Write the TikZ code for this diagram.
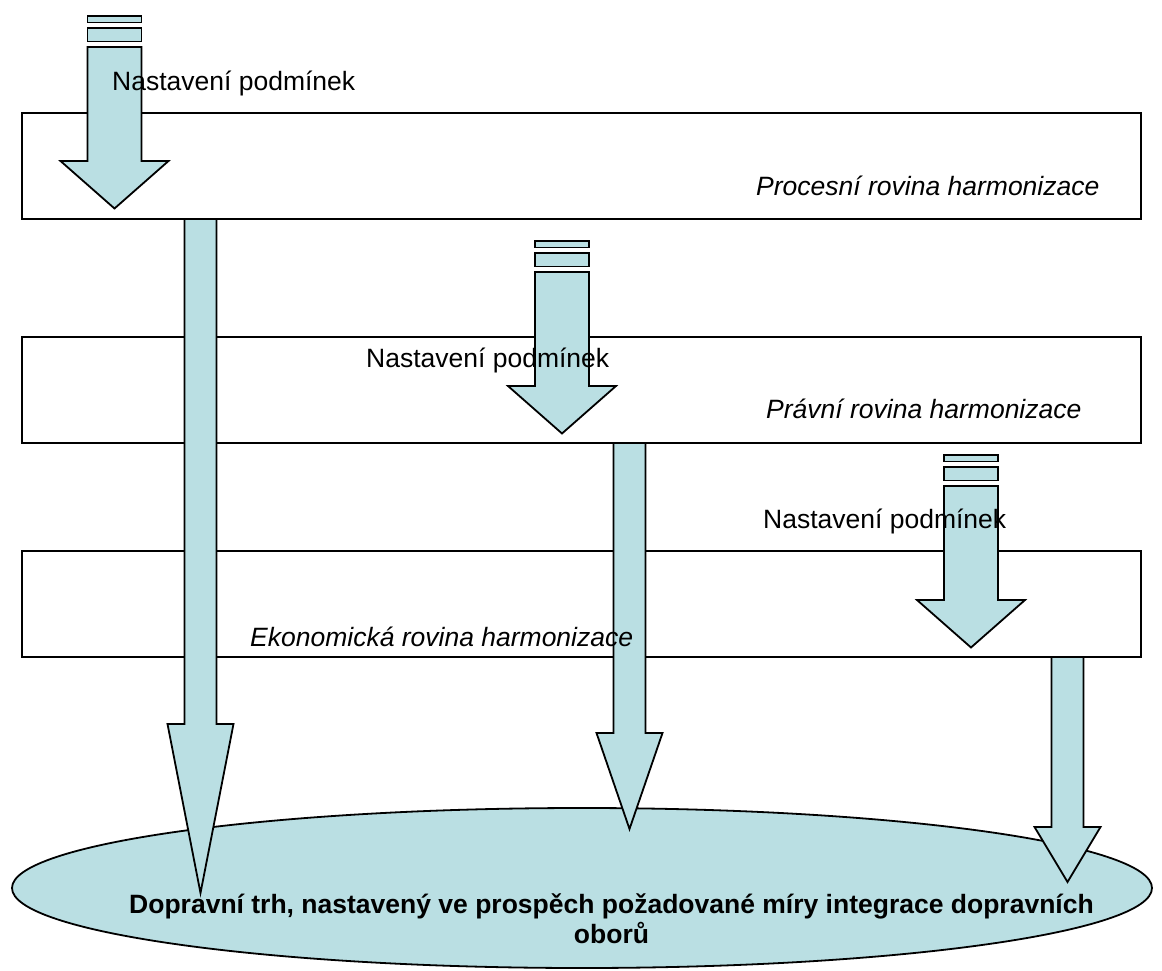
\documentclass[tikz,border=0pt]{standalone}
\usepackage{fontspec}
\setmainfont{Liberation Sans}
\usetikzlibrary{shapes.geometric}
\definecolor{arrowfill}{RGB}{186,223,227}

\begin{document}
\begin{tikzpicture}[
  x=1pt, y=-1pt,
  font=\fontsize{26.5}{30}\selectfont,
  plane/.style={draw, line width=2pt, fill=white, rectangle, inner sep=0pt,
                outer sep=0pt, minimum width=1119pt, minimum height=106pt},
  market/.style={draw, line width=1.8pt, fill=arrowfill, ellipse, inner sep=0pt,
                 outer sep=0pt, minimum width=1140pt, minimum height=160pt},
  barrow/.style={draw, line width=1.8pt, fill=arrowfill, line join=miter},
  lbl/.style={inner sep=0pt, anchor=base west},
  plbl/.style={lbl, font=\fontsize{26.5}{30}\selectfont\itshape}
]
\useasboundingbox (0,0) rectangle (1162,971);

% --- market and planes -----------------------------------------------------
\node[market] (market) at (582,888) {};
\node[plane] (proc) at (581.5,166) {};
\node[plane] (law)  at (581.5,390) {};
\node[plane] (econ) at (581.5,604) {};

% --- long arrows down to the market ----------------------------------------
\foreach \cx/\src/\yb/\yc in {200.5/proc/724/893, 629.5/law/733/829, 1067.5/econ/827/882}
  \draw[barrow] (\cx-16,0 |- \src.south) -- (\cx-16,\yb) -- (\cx-33,\yb) -- (\cx,\yc)
    -- (\cx+33,\yb) -- (\cx+16,\yb) -- (\cx+16,0 |- \src.south) -- cycle;

% --- striped arrows (setting conditions) -----------------------------------
\foreach \cx/\ty in {114.5/16, 562/241, 971/455}{
  \draw[barrow] (\cx-27,\ty) rectangle (\cx+27,\ty+6.5);
  \draw[barrow] (\cx-27,\ty+12) rectangle (\cx+27,\ty+25.5);
  \draw[barrow] (\cx-27,\ty+31) -- (\cx-27,\ty+145) -- (\cx-54,\ty+145) -- (\cx,\ty+192.5)
    -- (\cx+54,\ty+145) -- (\cx+27,\ty+145) -- (\cx+27,\ty+31) -- cycle;
}

% --- labels ----------------------------------------------------------------
\node[lbl] (set1) at (112,91)  {Nastavení podmínek};
\node[lbl] (set2) at (366,367) {Nastavení podmínek};
\node[lbl] (set3) at (763,528) {Nastavení podmínek};
\node[plbl] (proclbl) at (756,195) {Procesní rovina harmonizace};
\node[plbl] (lawlbl)  at (766,418) {Právní rovina harmonizace};
\node[plbl] (econlbl) at (250,646) {Ekonomická rovina harmonizace};
\node[font=\fontsize{26.5}{30}\selectfont\bfseries, align=center, inner sep=0pt,
      anchor=base] (marketlbl) at (611.5,943)
  {Dopravní trh, nastavený ve prospěch požadované míry integrace dopravních\\oborů};
\end{tikzpicture}
\end{document}
